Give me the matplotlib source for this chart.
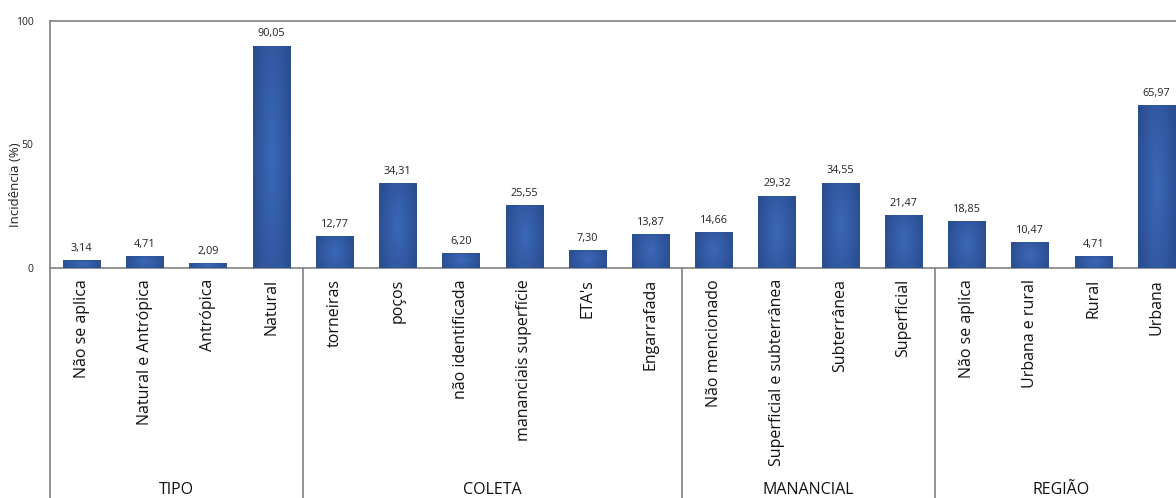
import numpy as np
import matplotlib.pyplot as plt
from matplotlib.colors import LinearSegmentedColormap

categorias = ['Não se aplica', 'Natural e Antrópica', 'Antrópica', 'Natural',
              'torneiras', 'poços', 'não identificada', 'mananciais superfície', "ETA's", 'Engarrafada',
              'Não mencionado', 'Superficial e subterrânea', 'Subterrânea', 'Superficial',
              'Não se aplica', 'Urbana e rural', 'Rural', 'Urbana']
incidencia = [3.14, 4.71, 2.09, 90.05,
              12.77, 34.31, 6.20, 25.55, 7.30, 13.87,
              14.66, 29.32, 34.55, 21.47,
              18.85, 10.47, 4.71, 65.97]
grupos = ['TIPO', 'COLETA', 'MANANCIAL', 'REGIÃO']
tamanhos = [4, 6, 4, 4]

plt.rcParams['font.family'] = ['Open Sans', 'DejaVu Sans']

fig = plt.figure(figsize=(11.76, 4.98), dpi=100)
ax = fig.add_axes([50 / 1176, 230 / 498, 1138 / 1176, 247 / 498])

x = np.arange(len(incidencia))
largura = 0.59
barras = ax.bar(x, incidencia, width=largura, color='#2f56a0', zorder=2)

# gradient fill: lighter in the middle of each bar, darker toward the edges
cmap = LinearSegmentedColormap.from_list('azul', ['#3c68b8', '#2b4e92'])
gx = np.linspace(-1, 1, 60)
gy = np.linspace(-1, 1, 120)
GX, GY = np.meshgrid(gx, gy)
grad = np.clip(np.sqrt(GX ** 2 * 0.9 + GY ** 2 * 0.35), 0, 1)
for b in barras:
    x0 = b.get_x()
    h = b.get_height()
    im = ax.imshow(grad, cmap=cmap, vmin=0, vmax=1, aspect='auto',
                   extent=(x0, x0 + b.get_width(), 0, h), zorder=3)
    im.set_clip_path(b)
    ax.text(b.get_x() + b.get_width() / 2, h + 2.5, f'{h:.2f}'.replace('.', ','),
            ha='center', va='bottom', fontsize=7.8, color='#222222')

ax.set_xlim(-0.5, len(incidencia) - 0.5)
ax.set_ylim(0, 100)
ax.set_yticks([0, 50, 100])
ax.tick_params(axis='y', length=0, pad=12, labelsize=7.5, labelcolor='#222222')
ax.set_xticks(x)
ax.set_xticklabels(categorias, rotation=90, fontsize=11.5, color='#111111')
ax.tick_params(axis='x', length=0, pad=8)
fig.text(16 / 1176, 1 - 185 / 498, 'Incidência (%)', rotation=90, ha='center', va='center',
         fontsize=9.5, color='#222222')

for s in ['top', 'left', 'bottom', 'right']:
    ax.spines[s].set_color('#808080')
    ax.spines[s].set_linewidth(1.2)

# group separators and group names below the category labels
trans = ax.get_xaxis_transform()
limites = np.concatenate([[0], np.cumsum(tamanhos)]) - 0.5
for lim in limites:
    ax.plot([lim, lim], [0, -1], transform=trans, color='#808080', lw=1.2, clip_on=False)
for g, a, b in zip(grupos, limites[:-1], limites[1:]):
    ax.text((a + b) / 2, -0.9, g, transform=trans, ha='center', va='center', fontsize=11.5, color='#111111')

fig.savefig('out.png', dpi=100)
